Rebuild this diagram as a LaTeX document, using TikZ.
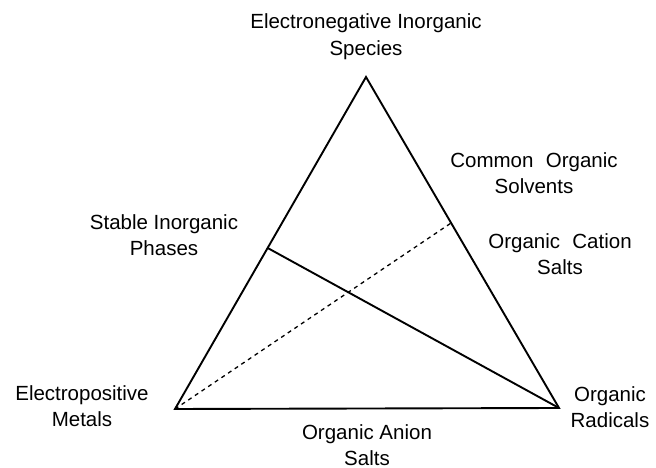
\documentclass[tikz,border=0pt]{standalone}
\usepackage{fontspec}
\setmainfont{Liberation Sans}
\usetikzlibrary{calc}

\begin{document}
\begin{tikzpicture}[
		x=1pt, y=1pt,
		edge/.style={line width=1.9pt, line join=miter},
		split/.style={line width=1.9pt},
		mix/.style={line width=1.3pt, dash pattern=on 4pt off 4pt},
		mylabel/.style={align=center, inner sep=0pt, font=\fontsize{20.5}{26.5}\selectfont}
		]
		\useasboundingbox (0,0) rectangle (656,468);
		
		\coordinate (top) at (366, 391);
		\coordinate (bl) at (175, 59);
		\coordinate (br) at (559, 60);
		\coordinate (lp) at ($(bl)!0.485!(top)$);
		\coordinate (rp) at ($(br)!0.559!(top)$);
		
		\draw[edge] (top) -- (bl) -- (br) -- cycle;
		\draw[split] (lp) -- (br);
		\draw[mix] (bl) -- (rp);
		
		\node[mylabel] (en) at (366, 431.5) {Electronegative Inorganic\\Species};
		\node[mylabel] (st) at (164, 233) {Stable Inorganic\\Phases};
		\node[mylabel] (so) at (534, 295) {Common\hspace{0.6em}Organic\\Solvents};
		\node[mylabel] (ca) at (560, 214) {Organic\hspace{0.6em}Cation\\Salts};
		\node[mylabel] (ep) at (82, 62) {Electropositive\\Metals};
		\node[mylabel] (ra) at (610, 61) {Organic\\Radicals};
		\node[mylabel] (an) at (367, 23) {Organic Anion\\Salts};
		
\end{tikzpicture}
\end{document}
